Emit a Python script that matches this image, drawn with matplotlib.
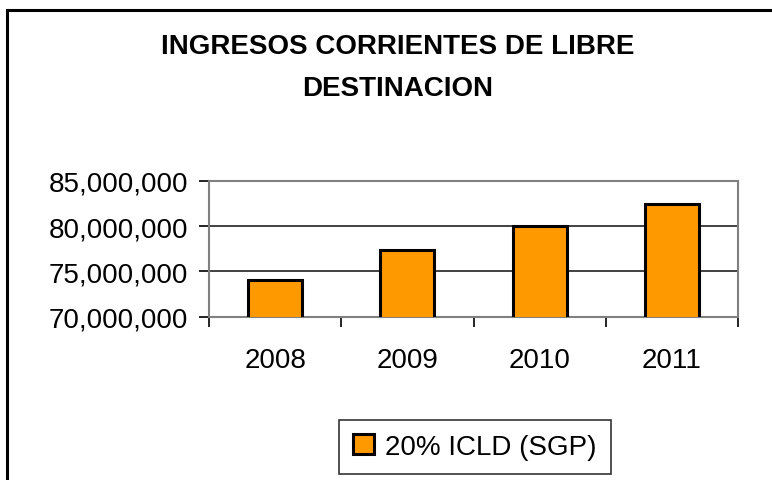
import matplotlib
matplotlib.use("Agg")
import matplotlib.pyplot as plt
from matplotlib.patches import Rectangle
from matplotlib.ticker import FuncFormatter

years = ["2008", "2009", "2010", "2011"]
values = [74080000, 77350000, 80000000, 82390000]
series_name = "20% ICLD (SGP)"
title = "INGRESOS CORRIENTES DE LIBRE\nDESTINACION"

plt.rcParams['font.family'] = ['Liberation Sans', 'DejaVu Sans']

fig = plt.figure(figsize=(7.72, 4.81), dpi=100)
ax = fig.add_axes([209/772, 1-317.7/481, (738-209)/772, (317.7-181.7)/481])

x = range(len(years))
ax.bar(x, values, width=0.41, color='#FF9900', edgecolor='black', linewidth=2.2,
       label=series_name, zorder=3)

ax.set_ylim(70000000, 85000000)
ax.set_yticks([70000000, 75000000, 80000000, 85000000])
ax.yaxis.set_major_formatter(FuncFormatter(lambda v, p: f"{int(v):,}"))
ax.set_xlim(-0.5, len(years) - 0.5)
ax.set_xticks([i - 0.5 for i in range(len(years) + 1)], minor=False)
ax.set_xticklabels([])
ax.set_xticks(list(x), minor=True)
ax.set_xticklabels(years, minor=True)
ax.tick_params(axis='x', which='minor', length=0, pad=22, labelsize=20)
ax.tick_params(axis='x', which='major', length=7, width=1.2, color='black', direction='out')
ax.tick_params(axis='y', length=7, width=1.2, color='black', direction='out', labelsize=20, pad=8)

ax.grid(axis='y', color='#333333', linewidth=1.3, zorder=0)
for s in ax.spines.values():
    s.set_color('#808080')
    s.set_linewidth(1.5)
ax.spines['left'].set_color('#808080')

fig.text(0.515, 1-68/481, title, ha='center', va='center', fontsize=20,
         fontweight='bold', linespacing=1.75)

leg = fig.legend(loc='center', bbox_to_anchor=(475/772, 1-448/481), fontsize=20,
                 frameon=True, fancybox=False, shadow=False, handlelength=0.75,
                 handleheight=0.75, handletextpad=0.4, borderpad=0.5)
leg.get_frame().set_edgecolor('black')
leg.get_frame().set_linewidth(1.2)

fig.patches.append(Rectangle((7/772, -0.1), 2.0, 1 - 11/481 + 0.1, transform=fig.transFigure,
                             fill=False, edgecolor='black', linewidth=2.2, figure=fig))

fig.savefig("out.png", dpi=100)
